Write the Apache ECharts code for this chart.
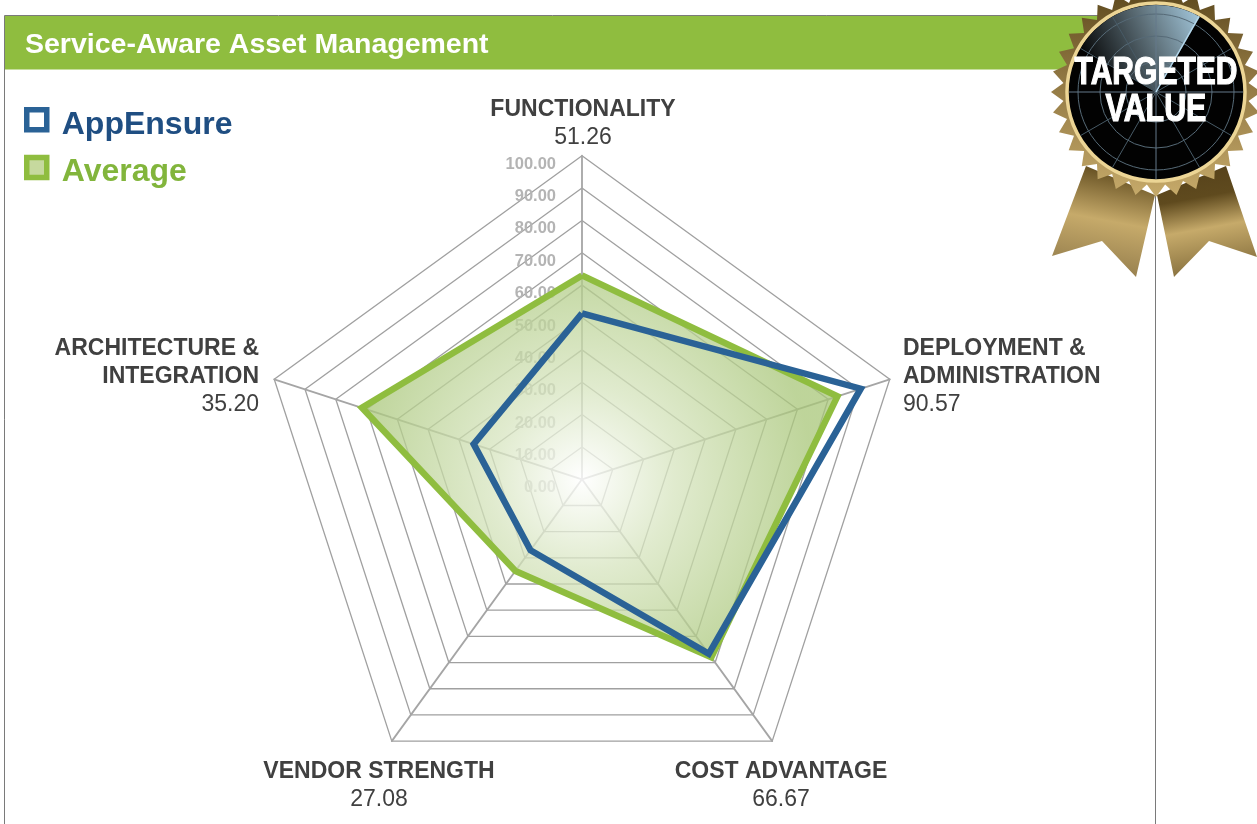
<!DOCTYPE html>
<html>
<head>
<meta charset="utf-8">
<title>Service-Aware Asset Management</title>
<style>
  html, body { margin: 0; padding: 0; background: #fff; }
  #chart { width: 1257px; height: 824px; }
</style>
<script src="https://cdn.jsdelivr.net/npm/echarts@6/dist/echarts.min.js"></script>
</head>
<body>
<div id="chart"></div>
<script>
// radar runs counter-clockwise from the top
var categories = ['FUNCTIONALITY', 'ARCHITECTURE &\nINTEGRATION', 'VENDOR STRENGTH', 'COST ADVANTAGE', 'DEPLOYMENT &\nADMINISTRATION']
var appEnsure = [51.26, 35.2, 27.08, 66.67, 90.57]
var average = [63, 71.5, 35, 68, 83]
var seriesNames = ['AppEnsure', 'Average']
var titleText = 'Service-Aware Asset Management'
var badgeLines = ['TARGETED', 'VALUE']

var FONT = '"Liberation Sans", Arial, sans-serif'
var BLUE = '#2a6296'
var GREEN = '#8fbd3f'
var cx = 582
var cy = 479.3
var radius = 323.6

// where each category caption goes, same order as categories
var captionPos = [
  { x: 583, y: 96, align: 'center' },
  { x: 259, y: 335, align: 'right' },
  { x: 379, y: 758, align: 'center' },
  { x: 781, y: 758, align: 'center' },
  { x: 903, y: 335, align: 'left' }
]

var chart = echarts.init(document.getElementById('chart'))

function linear(x, y, x2, y2, stops) {
  return new echarts.graphic.LinearGradient(x, y, x2, y2, stops.map(function (s) {
    return { offset: s[0], color: s[1] }
  }))
}

function captions() {
  return categories.map(function (name, i) {
    var p = captionPos[i]
    var lines = name.split('\n').map(function (l) { return '{n|' + l + '}' })
    lines.push('{v|' + appEnsure[i].toFixed(2) + '}')
    return {
      type: 'text',
      x: p.x,
      y: p.y,
      z: 20,
      style: {
        text: lines.join('\n'),
        align: p.align,
        rich: {
          n: { font: 'bold 23px ' + FONT, fill: '#404040', lineHeight: 28, align: p.align },
          v: { font: '23px ' + FONT, fill: '#404040', lineHeight: 28, align: p.align }
        }
      }
    }
  })
}

// frame and green title bar
function frame() {
  var c = '#7a7a7a'
  return [
    { type: 'line', z: 1, shape: { x1: 4.5, y1: 15.5, x2: 1100, y2: 15.5 }, style: { stroke: c, lineWidth: 1 } },
    { type: 'line', z: 1, shape: { x1: 4.5, y1: 15.5, x2: 4.5, y2: 824 }, style: { stroke: c, lineWidth: 1 } },
    { type: 'line', z: 1, shape: { x1: 1155.5, y1: 190, x2: 1155.5, y2: 824 }, style: { stroke: c, lineWidth: 1 } },
    { type: 'rect', z: 2, shape: { x: 5, y: 16, width: 1100, height: 53.5 }, style: { fill: GREEN } },
    { type: 'text', z: 3, x: 25, y: 45, style: { text: titleText, font: 'bold 28.5px ' + FONT, fill: '#fff', verticalAlign: 'middle' } }
  ]
}

// the rosette in the top right corner
function badge() {
  var bx = 1156
  var by = 92
  var out = []
  out.push({
    type: 'polygon', z: 30,
    shape: { points: [[1086, 166], [1155, 195], [1136, 277], [1102, 241], [1052, 256]] },
    style: { fill: linear(0.2, 0, 0, 1, [[0, '#6b5526'], [0.42, '#c6aa6a'], [1, '#8b7547']]) }
  })
  out.push({
    type: 'polygon', z: 30,
    shape: { points: [[1157, 195], [1226, 166], [1257, 257], [1209, 241], [1174, 277]] },
    style: { fill: linear(0, 0, 0.2, 1, [[0, '#54401a'], [0.34, '#5f4a1e'], [0.62, '#c6aa6a'], [1, '#8a7340']]) }
  })
  var teeth = 32
  var pts = []
  for (var i = 0; i < teeth * 2; i++) {
    var a = Math.PI * i / teeth
    var r = i % 2 ? 93 : 105
    pts.push([bx + r * Math.sin(a), by - r * Math.cos(a)])
  }
  out.push({
    type: 'polygon', z: 31, shape: { points: pts },
    style: { fill: linear(0, 0, 0, 1, [[0, '#5b471c'], [0.4, '#8d7440'], [1, '#c6aa6a']]) }
  })
  out.push({ type: 'circle', z: 32, shape: { cx: bx, cy: by, r: 89 }, style: { fill: '#020202', stroke: '#ecd595', lineWidth: 3.5 } })
  out.push({
    type: 'sector', z: 33,
    shape: { cx: bx, cy: by, r: 87, r0: 0, startAngle: -Math.PI * 0.83, endAngle: -Math.PI * 0.335 },
    style: { fill: linear(1, 0, 0, 0.6, [[0, '#a6cbe0'], [0.45, '#5d6f78'], [1, '#020202']]) }
  })
  for (var k = 0; k < 3; k++) {
    out.push({ type: 'circle', z: 34, shape: { cx: bx, cy: by, r: [30, 56, 78][k] }, style: { fill: 'none', stroke: '#566a77', lineWidth: 1 } })
  }
  for (var s = 0; s < 12; s++) {
    var ang = Math.PI * s / 6
    out.push({
      type: 'line', z: 34,
      shape: { x1: bx, y1: by, x2: bx + 87 * Math.cos(ang), y2: by + 87 * Math.sin(ang) },
      style: { stroke: s % 3 ? '#475a66' : '#65798a', lineWidth: 1 }
    })
  }
  out.push({
    type: 'line', z: 34,
    shape: { x1: bx, y1: by, x2: bx + 87 * Math.cos(-Math.PI * 0.335), y2: by + 87 * Math.sin(-Math.PI * 0.335) },
    style: { stroke: '#b5d8ec', lineWidth: 1.5 }
  })
  out.push({
    type: 'text', z: 35, x: bx, y: 74, scaleX: 0.79,
    style: { text: badgeLines[0], font: 'bold 38px ' + FONT, fill: '#fff', stroke: '#fff', lineWidth: 1.2, align: 'center', verticalAlign: 'middle' }
  })
  out.push({
    type: 'text', z: 35, x: bx, y: 111, scaleX: 0.8,
    style: { text: badgeLines[1], font: 'bold 38px ' + FONT, fill: '#fff', stroke: '#fff', lineWidth: 1.2, align: 'center', verticalAlign: 'middle' }
  })
  return out
}

function legendText(color) {
  return {
    rich: {
      t: { color: color, fontFamily: FONT, fontWeight: 'bold', fontSize: 32, padding: [10, 0, 0, 10] }
    }
  }
}

var option = {
  animation: false,
  backgroundColor: '#fff',
  legend: {
    left: 19,
    top: 102,
    orient: 'vertical',
    itemWidth: 20,
    itemHeight: 20,
    itemGap: 14,
    selectedMode: false,
    formatter: function (name) { return '{t|' + name + '}' },
    data: [
      {
        name: seriesNames[0],
        icon: 'rect',
        itemStyle: { color: '#fff', borderColor: BLUE, borderWidth: 5.5 },
        textStyle: legendText('#1f4e82')
      },
      {
        name: seriesNames[1],
        icon: 'rect',
        itemStyle: { color: '#c6d99e', borderColor: GREEN, borderWidth: 5.5 },
        textStyle: legendText('#82b53c')
      }
    ]
  },
  radar: {
    center: [cx, cy],
    radius: radius,
    startAngle: 90,
    splitNumber: 10,
    shape: 'polygon',
    axisName: { show: false },
    splitArea: { show: false },
    splitLine: { lineStyle: { color: '#a0a0a0', width: 1.3 } },
    axisLine: { lineStyle: { color: '#a5a5a5', width: 1.8 } },
    axisTick: { show: false },
    indicator: categories.map(function (name, i) {
      var ind = { name: name, min: 0, max: 100 }
      if (i === 0) {
        ind.axisLabel = {
          show: true,
          margin: 26,
          color: '#b4b4b4',
          fontFamily: FONT,
          fontWeight: 'bold',
          fontSize: 16.5,
          verticalAlign: 'top',
          formatter: function (v) { return v.toFixed(2) }
        }
      }
      return ind
    })
  },
  series: [
    // area on its own so it does not paint over the green outline
    {
      type: 'radar',
      symbol: 'none',
      z: 2,
      lineStyle: { width: 0, opacity: 0 },
      itemStyle: { color: GREEN },
      areaStyle: {
        opacity: 1,
        color: new echarts.graphic.RadialGradient(cx, cy, 230, [
          { offset: 0, color: 'rgba(255,255,255,0.8)' },
          { offset: 0.4, color: 'rgba(214,228,190,0.75)' },
          { offset: 1, color: 'rgba(168,198,120,0.75)' }
        ], true)
      },
      data: [{ name: seriesNames[1], value: average }]
    },
    {
      type: 'radar',
      symbol: 'none',
      z: 3,
      lineStyle: { color: GREEN, width: 6.5, join: 'miter' },
      itemStyle: { color: GREEN },
      data: [{ name: seriesNames[1], value: average }]
    },
    {
      type: 'radar',
      symbol: 'none',
      z: 4,
      lineStyle: { color: BLUE, width: 6.5, join: 'miter' },
      itemStyle: { color: BLUE },
      data: [{ name: seriesNames[0], value: appEnsure }]
    }
  ],
  graphic: { elements: frame().concat(captions()).concat(badge()) }
}

chart.setOption(option)
</script>
</body>
</html>
